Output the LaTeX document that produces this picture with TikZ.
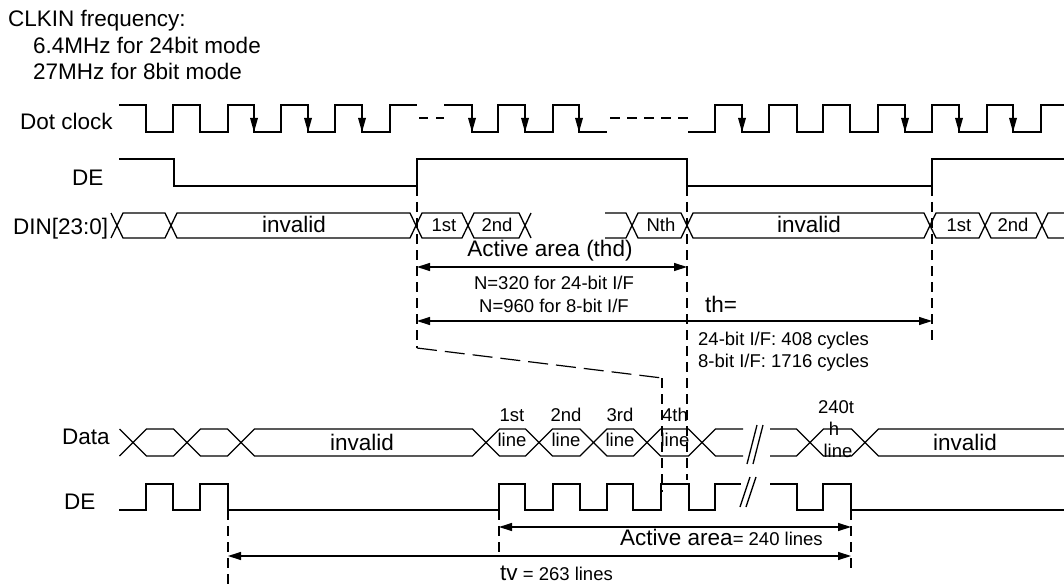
\documentclass[tikz,border=0pt]{standalone}
\usepackage{fontspec}
\setmainfont{Liberation Sans}
\usetikzlibrary{arrows.meta}
\newcommand\bigtxt{\fontsize{22.5}{26}\selectfont}
\newcommand\smalltxt{\fontsize{18.5}{22}\selectfont}
\begin{document}
\begin{tikzpicture}[x=1pt,y=-1pt,
  wave/.style={line width=1.3pt, line join=miter},
  dim/.style={line width=1.3pt, {Triangle[length=13pt,width=8pt]}-{Triangle[length=13pt,width=8pt]}},
  guide/.style={line width=1.2pt, dash pattern=on 10pt off 6pt},
  longguide/.style={line width=1.2pt, dash pattern=on 20pt off 8pt},
  big/.style={font=\bigtxt, inner sep=0pt},
  small/.style={font=\smalltxt, inner sep=0pt}]
\useasboundingbox[fill=white] (0,0) rectangle (1064,585);

% ---------- header text ----------
\node[big, anchor=base west] (clkin) at (8,27) {CLKIN frequency:};
\node[big, anchor=base west] (f1) at (33,54) {6.4MHz for 24bit mode};
\node[big, anchor=base west] (f2) at (33,80) {27MHz for 8bit mode};

% ---------- signal labels ----------
\node[big, anchor=base west] (lclk) at (20,130) {Dot clock};
\node[big, anchor=base west] (lde) at (72,186) {DE};
\node[big, anchor=base west] (ldin) at (13,234) {DIN[23:0]};
\node[big, anchor=base west] (ldata) at (62,444) {Data};
\node[big, anchor=base west] (lde2) at (64,509) {DE};

% ---------- dot clock ----------
\draw[wave] (119,105) -- (146,105) -- (146,132) -- (173,132) -- (173,105) -- (200,105) -- (200,132)
  -- (228,132) -- (228,105) -- (254,105) -- (254,132) -- (281,132) -- (281,105) -- (308,105) -- (308,132)
  -- (335,132) -- (335,105) -- (362,105) -- (362,132) -- (390,132) -- (390,105) -- (417,105);
\draw[wave, dash pattern=on 9pt off 8pt] (419,118) -- (444,118);
\draw[wave] (444,105) -- (472,105) -- (472,132) -- (498,132) -- (498,105) -- (525,105) -- (525,132)
  -- (553,132) -- (553,105) -- (579,105) -- (579,132) -- (607,132);
\draw[wave, dash pattern=on 10pt off 7pt] (610,118) -- (688,118);
\draw[wave] (688,132) -- (715,132) -- (715,105) -- (742,105) -- (742,132) -- (769,132) -- (769,105)
  -- (797,105) -- (797,132) -- (823,132) -- (823,105) -- (850,105) -- (850,132) -- (878,132) -- (878,105)
  -- (905,105) -- (905,132) -- (932,132) -- (932,105) -- (959,105) -- (959,132) -- (987,132) -- (987,105)
  -- (1013,105) -- (1013,132) -- (1041,132) -- (1041,105) -- (1064,105);
\foreach \x in {254,308,362,472,525,579,742,905,959,1013}
  \fill ({\x-4},118) -- ({\x+4},118) -- (\x,132) -- cycle;

% ---------- upper DE ----------
\draw[wave] (119,159) -- (174,159) -- (174,186) -- (417,186) -- (417,159) -- (687,159) -- (687,186)
  -- (932,186) -- (932,159) -- (1064,159);

% ---------- DIN bus ----------
\draw[wave] (111,213) -- (117,225.5) -- (111,238);
\foreach \a/\b in {117/171,171/416,416/468,468/525,632/687,687/930,930/985,985/1042}
  \draw[wave] (\a,225.5) -- ({\a+6},213) -- ({\b-6},213) -- (\b,225.5) -- ({\b-6},238) -- ({\a+6},238) -- cycle;
\draw[wave] (531,213) -- (525,225.5) -- (531,238);
\draw[wave] (605,213) -- (626,213) -- (632,225.5) -- (626,238) -- (605,238);
\draw[wave] (1064,213) -- (1048,213) -- (1042,225.5) -- (1048,238) -- (1064,238);

\node[big, anchor=base] (inv1) at (294,233) {invalid};
\node[small, anchor=base] (d1) at (444,232) {1st};
\node[small, anchor=base] (d2) at (497,232) {2nd};
\node[small, anchor=base] (dn) at (661,232) {Nth};
\node[big, anchor=base] (inv2) at (809,233) {invalid};
\node[small, anchor=base] (d1b) at (959,232) {1st};
\node[small, anchor=base] (d2b) at (1013,232) {2nd};

% ---------- guides (upper) ----------
\coordinate (g1t) at (417,186);
\coordinate (g1b) at (417,348);
\coordinate (g1d) at (662,378);
\coordinate (g1e) at (662,492);
\coordinate (g2t) at (687,186);
\coordinate (g2b) at (687,480);
\coordinate (g3t) at (932,186);
\coordinate (g3b) at (932,345);
\draw[guide] (g1t) -- (g1b);
\draw[longguide] (g1b) -- (g1d);
\draw[guide] (g1d) -- (g1e);
\draw[guide] (g2t) -- (g2b);
\draw[guide] (g3t) -- (g3b);

% ---------- dimensions (upper) ----------
\coordinate (a1l) at (417,267);
\coordinate (a1r) at (687,267);
\coordinate (a2l) at (417,321);
\coordinate (a2r) at (932,321);
\draw[dim] (a1l) -- (a1r);
\draw[dim] (a2l) -- (a2r);
\node[big, anchor=base] (aa) at (550,256) {Active area (thd)};
\node[small, anchor=base] (n1) at (554,289) {N=320 for 24-bit I/F};
\node[small, anchor=base] (n2) at (554,312) {N=960 for 8-bit I/F};
\node[big, anchor=base west] (th) at (705,312) {th=};
\node[small, anchor=base west] (c1) at (698,345) {24-bit I/F: 408 cycles};
\node[small, anchor=base west] (c2) at (698,367) {8-bit I/F: 1716 cycles};

% ---------- Data bus (lower) ----------
\draw[wave] (119.5,429) -- (133,442.5) -- (119.5,456);
\foreach \a/\b in {133/187,187/241,241/486,486/539,539/593.5,593.5/647,647/702,810/865}
  \draw[wave] (\a,442.5) -- ({\a+13.5},429) -- ({\b-13.5},429) -- (\b,442.5) -- ({\b-13.5},456) -- ({\a+13.5},456) -- cycle;
\draw[wave] (743,429) -- (715.5,429) -- (702,442.5) -- (715.5,456) -- (743,456);
\draw[wave] (770,429) -- (796.5,429) -- (810,442.5) -- (796.5,456) -- (770,456);
\draw[wave] (1064,429) -- (878.5,429) -- (865,442.5) -- (878.5,456) -- (1064,456);
\draw[wave] (747,464) -- (757,425);
\draw[wave] (753,464) -- (763,425);

\node[big, anchor=base] (inv3) at (362,450) {invalid};
\node[big, anchor=base] (inv4) at (965,450) {invalid};
\node[small, anchor=base] (l1a) at (512,421) {1st};
\node[small, anchor=base] (l1b) at (512,446) {line};
\node[small, anchor=base] (l2a) at (566,421) {2nd};
\node[small, anchor=base] (l2b) at (566,446) {line};
\node[small, anchor=base] (l3a) at (620,421) {3rd};
\node[small, anchor=base] (l3b) at (620,446) {line};
\node[small, anchor=base] (l4a) at (675,421) {4th};
\node[small, anchor=base] (l4b) at (675,446) {line};
\node[small, anchor=base] (l5a) at (836,413) {240t};
\node[small, anchor=base] (l5b) at (834,435) {h};
\node[small, anchor=base] (l5c) at (838,457) {line};

% ---------- lower DE ----------
\draw[wave] (119,510) -- (146,510) -- (146,484) -- (173,484) -- (173,510) -- (200,510) -- (200,484)
  -- (228,484) -- (228,510) -- (499,510) -- (499,484) -- (525,484) -- (525,510) -- (553,510) -- (553,484)
  -- (580,484) -- (580,510) -- (607,510) -- (607,484) -- (633,484) -- (633,510) -- (661,510) -- (661,484)
  -- (689,484) -- (689,510) -- (715,510) -- (715,484) -- (741,484);
\draw[wave] (770,484) -- (797,484) -- (797,510) -- (823,510) -- (823,484) -- (851,484) -- (851,510) -- (1064,510);
\draw[wave] (740,507) -- (750,477);
\draw[wave] (746,507) -- (756,477);

% ---------- guides and dimensions (lower) ----------
\coordinate (h1t) at (228,510);
\coordinate (h1b) at (228,585);
\coordinate (h2t) at (499,510);
\coordinate (h2b) at (499,556);
\coordinate (h3t) at (851,510);
\coordinate (h3b) at (851,568);
\draw[guide] (h1t) -- (h1b);
\draw[guide] (h2t) -- (h2b);
\draw[guide] (h3t) -- (h3b);
\coordinate (b1l) at (499,527);
\coordinate (b1r) at (851,527);
\coordinate (b2l) at (228,556);
\coordinate (b2r) at (851,556);
\draw[dim] (b1l) -- (b1r);
\draw[dim] (b2l) -- (b2r);
\node[anchor=base west, inner sep=0pt] (act) at (620,545) {{\bigtxt Active area}{\smalltxt= 240 lines}};
\node[anchor=base west, inner sep=0pt] (tv) at (500,580) {{\bigtxt tv}{\smalltxt\ = 263 lines}};
\end{tikzpicture}
\end{document}
